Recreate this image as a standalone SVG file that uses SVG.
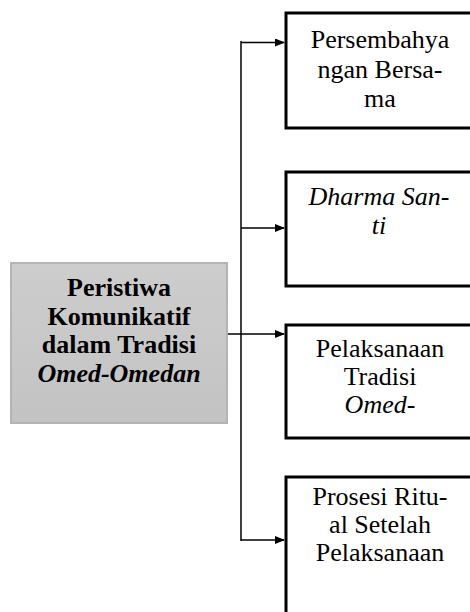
<svg xmlns="http://www.w3.org/2000/svg" width="470" height="612" viewBox="0 0 470 612">
<style>
.box{fill:#ffffff;stroke:#000000;stroke-width:3}
.t{font-family:"Liberation Serif","Times New Roman",serif;font-size:26px;fill:#000000;text-anchor:middle}
.i{font-style:italic}
.b{font-weight:bold}
.c{fill:none;stroke:#000000;stroke-width:1.5}
</style>
<defs>
<marker id="ah" markerWidth="10" markerHeight="8" refX="9" refY="4" orient="auto" markerUnits="userSpaceOnUse">
<path d="M0,0 L10,4 L0,8 Z" fill="#000000"/>
</marker>
<linearGradient id="g" x1="0" y1="0" x2="0" y2="1">
<stop offset="0" stop-color="#cdcdcd"/>
<stop offset="1" stop-color="#c3c3c3"/>
</linearGradient>
</defs>
<g id="connectors">
<path class="c" d="M241,41 L241,541"/>
<path class="c" d="M241,42.5 L284,42.5" marker-end="url(#ah)"/>
<path class="c" d="M241,228 L284,228" marker-end="url(#ah)"/>
<path class="c" d="M227,334 L284,334" marker-end="url(#ah)"/>
<path class="c" d="M241,540 L284,540" marker-end="url(#ah)"/>
</g>
<g id="main">
<rect x="11" y="263" width="216" height="160" fill="url(#g)" stroke="#b4b4b4" stroke-width="2"/>
<text class="t b" x="119" y="296">Peristiwa</text>
<text class="t b" x="119" y="325">Komunikatif</text>
<text class="t b" x="119" y="353">dalam Tradisi</text>
<text class="t b i" x="119" y="382">Omed-Omedan</text>
</g>
<g id="n1">
<rect class="box" x="286" y="13" width="192" height="115"/>
<text class="t" x="380" y="48">Persembahya</text>
<text class="t" x="380" y="78">ngan Bersa-</text>
<text class="t" x="380" y="107">ma</text>
</g>
<g id="n2">
<rect class="box" x="286" y="172" width="192" height="114"/>
<text class="t i" x="379" y="205">Dharma San-</text>
<text class="t i" x="379" y="234">ti</text>
</g>
<g id="n3">
<rect class="box" x="286" y="325" width="192" height="113"/>
<text class="t" x="380" y="357">Pelaksanaan</text>
<text class="t" x="380" y="385">Tradisi</text>
<text class="t" x="380" y="413"><tspan class="i">Omed</tspan>-</text>
</g>
<g id="n4">
<rect class="box" x="286" y="477" width="192" height="150"/>
<text class="t" x="380" y="505">Prosesi Ritu-</text>
<text class="t" x="380" y="533">al Setelah</text>
<text class="t" x="380" y="561">Pelaksanaan</text>
</g>
</svg>
